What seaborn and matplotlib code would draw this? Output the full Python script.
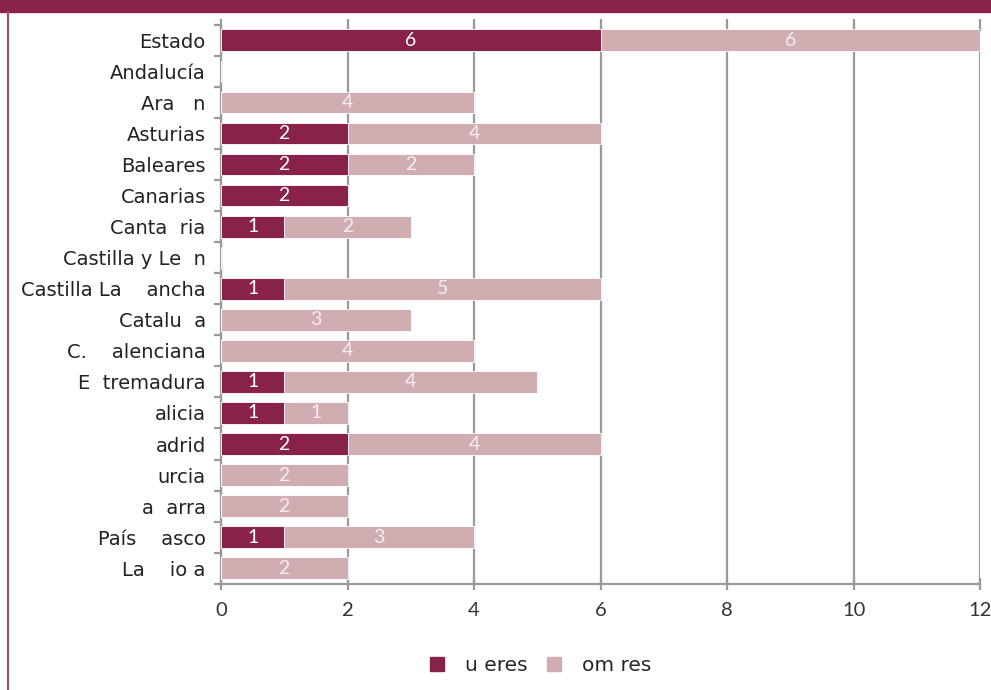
import pandas as pd
import numpy as np
import matplotlib.pyplot as plt
import seaborn as sns
from matplotlib.patches import Rectangle
from matplotlib.lines import Line2D

sns.set_style("white")
plt.rcParams['font.family'] = ['DejaVu Sans']

# Data (labels kept as they appear in the picture)
regions = ["Estado", "Andalucía", "Ara   n", "Asturias", "Baleares", "Canarias",
           "Canta  ria", "Castilla y Le  n", "Castilla La    ancha", "Catalu  a",
           "C.    alenciana", "E  tremadura", "alicia", "adrid", "urcia",
           "a  arra", "País    asco", "La    io a"]
mujeres = [6, 0, 0, 2, 2, 2, 1, 0, 1, 0, 0, 1, 1, 2, 0, 0, 1, 0]
hombres = [6, 0, 4, 4, 2, 0, 2, 0, 5, 3, 4, 4, 1, 4, 2, 2, 3, 2]
legend_labels = ["u eres", "om res"]
xticks = [0, 2, 4, 6, 8, 10, 12]

dark = "#88224A"
light = "#CFADB0"
grey = "#9A9A9A"

df = pd.DataFrame({"region": regions, "mujeres": mujeres, "hombres": hombres})
df["total"] = df["mujeres"] + df["hombres"]

fig = plt.figure(figsize=(9.91, 6.90), dpi=100)
ax = fig.add_axes([0.223, 0.154, 0.766, 0.810])

# Stacked bars: total in light, mujeres on top in dark
sns.barplot(data=df, x="total", y="region", color=light, saturation=1,
            width=0.7, edgecolor="white", linewidth=0.6, ax=ax, zorder=3)
sns.barplot(data=df, x="mujeres", y="region", color=dark, saturation=1,
            width=0.7, edgecolor="white", linewidth=0.6, ax=ax, zorder=4)

# Value labels
for i, row in df.iterrows():
    if row["mujeres"] > 0:
        ax.text(row["mujeres"] / 2, i, str(row["mujeres"]), color="white",
                ha="center", va="center", fontsize=14, family="Lato", zorder=5)
    if row["hombres"] > 0:
        ax.text(row["mujeres"] + row["hombres"] / 2, i, str(row["hombres"]),
                color="#F5EDEE", ha="center", va="center", fontsize=14,
                family="Lato", zorder=5)

ax.set_xlim(0, 12)
ax.set_ylim(17.5, -0.5)
ax.set_xticks(xticks)
ax.set_xticklabels([str(t) for t in xticks])
plt.setp(ax.get_xticklabels(), fontsize=14.5, color="#333333", family="Lato")
ax.set_xlabel("")
ax.set_ylabel("")
ax.xaxis.grid(True, color=grey, linewidth=1.6, zorder=0)
ax.yaxis.grid(False)

# Category boundary ticks on the y axis
ax.set_yticks(range(len(regions)))
ax.set_yticklabels(regions, fontsize=14, color="#222222")
ax.tick_params(axis="y", which="major", left=False, length=0, pad=11)
ax.set_yticks(np.arange(-0.5, len(regions)), minor=True)
ax.tick_params(axis="y", which="minor", left=True, length=5, width=1.6,
               color=grey, direction="out")
ax.tick_params(axis="x", which="major", bottom=True, top=True, length=9, width=1.6,
               color=grey, direction="inout", pad=9)

for s in ["top", "right"]:
    ax.spines[s].set_visible(False)
for s in ["left", "bottom"]:
    ax.spines[s].set_color(grey)
    ax.spines[s].set_linewidth(1.6)

# Legend
handles = [Line2D([], [], marker="s", linestyle="", markersize=10, color=dark),
           Line2D([], [], marker="s", linestyle="", markersize=10, color=light)]
fig.legend(handles, legend_labels, loc="center", bbox_to_anchor=(0.543, 0.035),
           ncol=2, frameon=False, fontsize=14.5, handlelength=1.2,
           handletextpad=0.8, columnspacing=0.7)

# Title band and left border
fig.patches.append(Rectangle((0, 0.983), 1, 0.017, transform=fig.transFigure,
                             color=dark, zorder=0))
fig.add_artist(Line2D([0.0085, 0.0085], [0, 0.983], transform=fig.transFigure,
                      color="#A24A70", linewidth=1.5))

fig.savefig("out.png", dpi=100)
